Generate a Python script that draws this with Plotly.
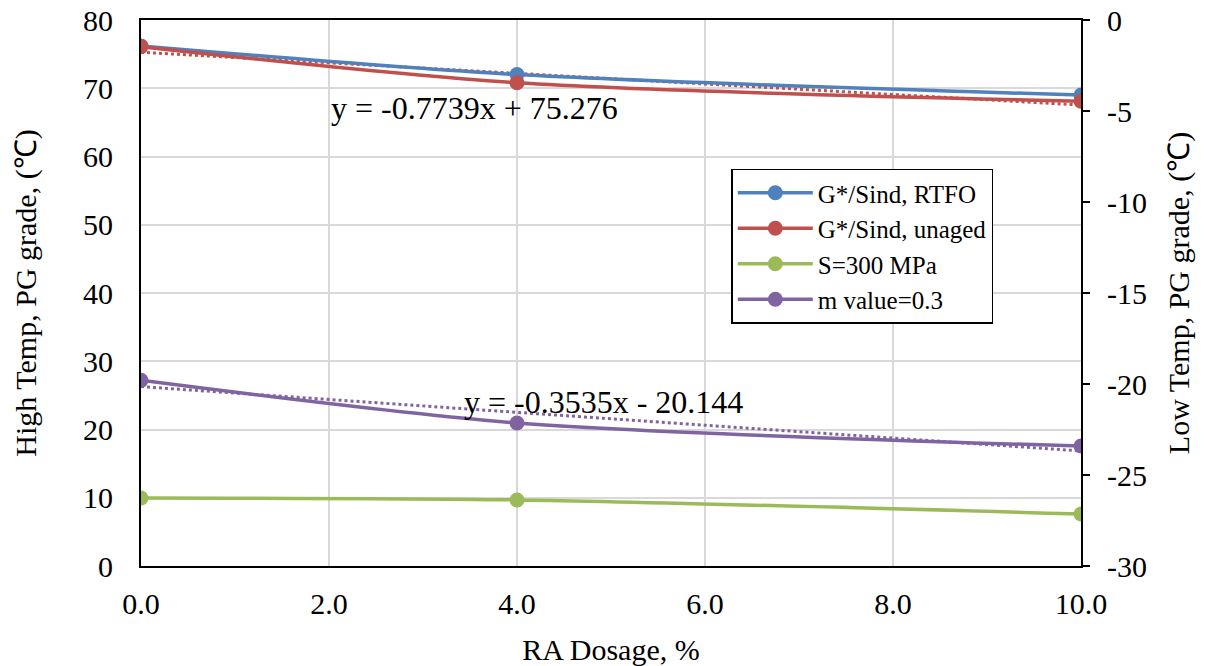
import plotly.graph_objects as go

# ---- data ----
ra_dosage = [0.0, 4.0, 10.0]
g_rtfo = [76.2, 72.0, 69.0]
g_unaged = [76.1, 70.8, 68.1]
s300 = [-26.26, -26.37, -27.14]
m_value = [-19.8, -22.14, -23.41]

series_names = ["G*/Sind, RTFO", "G*/Sind, unaged", "S=300 MPa", "m value=0.3"]
colors = ["#4F81BD", "#C0504D", "#9BBB59", "#8064A2"]

x_ticks = [0, 2, 4, 6, 8, 10]
x_ticklabels = ["0.0", "2.0", "4.0", "6.0", "8.0", "10.0"]
y_ticks = [0, 10, 20, 30, 40, 50, 60, 70, 80]
y2_ticks = [-30, -25, -20, -15, -10, -5, 0]
y2_ticklabels = ["-30", "-25", "-20", "-15", "-10", "-5", "0"]

# trendline coefficients (as printed on chart)
trend_unaged = (-0.7739, 75.276)
trend_m = (-0.3535, -20.144)
trend_x = [0.0, 10.0]

FONT = "Liberation Serif, Times New Roman, serif"

fig = go.Figure()

def add_series(x, y, name, color, axis):
    fig.add_trace(go.Scatter(
        x=x, y=y, name=name, mode="lines+markers", yaxis=axis,
        line=dict(color=color, width=3.5, shape="spline", smoothing=0.8),
        marker=dict(color=color, size=15),
    ))

def add_trend(coef, color, axis):
    a, b = coef
    fig.add_trace(go.Scatter(
        x=trend_x, y=[a * xv + b for xv in trend_x], mode="lines", yaxis=axis,
        showlegend=False, hoverinfo="skip",
        line=dict(color=color, width=3, dash="dot"),
    ))

add_trend(trend_unaged, colors[1], "y")
add_trend(trend_m, colors[3], "y2")
add_series(ra_dosage, g_rtfo, series_names[0], colors[0], "y")
add_series(ra_dosage, g_unaged, series_names[1], colors[1], "y")
add_series(ra_dosage, s300, series_names[2], colors[2], "y2")
add_series(ra_dosage, m_value, series_names[3], colors[3], "y2")

fig.add_annotation(x=2.0, y=67.1, xref="x", yref="y", xanchor="left", yanchor="middle",
                   text="y = -0.7739x + 75.276", showarrow=False,
                   font=dict(family=FONT, size=32, color="black"))
fig.add_annotation(x=3.41, y=24.0, xref="x", yref="y", xanchor="left", yanchor="middle",
                   text="y = -0.3535x - 20.144", showarrow=False,
                   font=dict(family=FONT, size=32, color="black"))

fig.update_layout(
    width=1212, height=666,
    margin=dict(l=141, r=131, t=20, b=100),
    paper_bgcolor="white", plot_bgcolor="white",
    font=dict(family=FONT, size=30, color="black"),
    showlegend=True,
    legend=dict(
        x=0.628, y=0.586, xanchor="left", yanchor="middle",
        bgcolor="white", bordercolor="black", borderwidth=1.5,
        font=dict(family=FONT, size=25, color="black"),
        tracegroupgap=0, itemwidth=75,
    ),
    xaxis=dict(
        range=[0, 10], tickmode="array", tickvals=x_ticks, ticktext=x_ticklabels,
        showgrid=True, gridcolor="#D9D9D9", gridwidth=2,
        showline=True, linecolor="black", linewidth=2, mirror=True,
        ticks="", zeroline=False, ticklabelstandoff=10, automargin=False,
        title=dict(text="RA Dosage, %", standoff=32, font=dict(family=FONT, size=30)),
        tickfont=dict(family=FONT, size=30),
    ),
    yaxis=dict(
        range=[0, 80], tickmode="array", tickvals=y_ticks,
        showgrid=True, gridcolor="#D9D9D9", gridwidth=2,
        showline=True, linecolor="black", linewidth=2,
        ticks="", zeroline=False, ticklabelstandoff=20, automargin=False,
        title=dict(text="High Temp, PG grade, (℃)", standoff=38, font=dict(family=FONT, size=30)),
        tickfont=dict(family=FONT, size=30),
    ),
    yaxis2=dict(
        range=[-30, 0], tickmode="array", tickvals=y2_ticks, ticktext=y2_ticklabels,
        overlaying="y", side="right",
        showgrid=False, showline=True, linecolor="black", linewidth=2,
        ticks="outside", ticklen=7, tickwidth=2, tickcolor="black",
        zeroline=False, ticklabelstandoff=11, automargin=False,
        title=dict(text="Low Temp, PG grade, (℃)", standoff=22, font=dict(family=FONT, size=30)),
        tickfont=dict(family=FONT, size=30),
    ),
)

fig.write_html("out.html")
